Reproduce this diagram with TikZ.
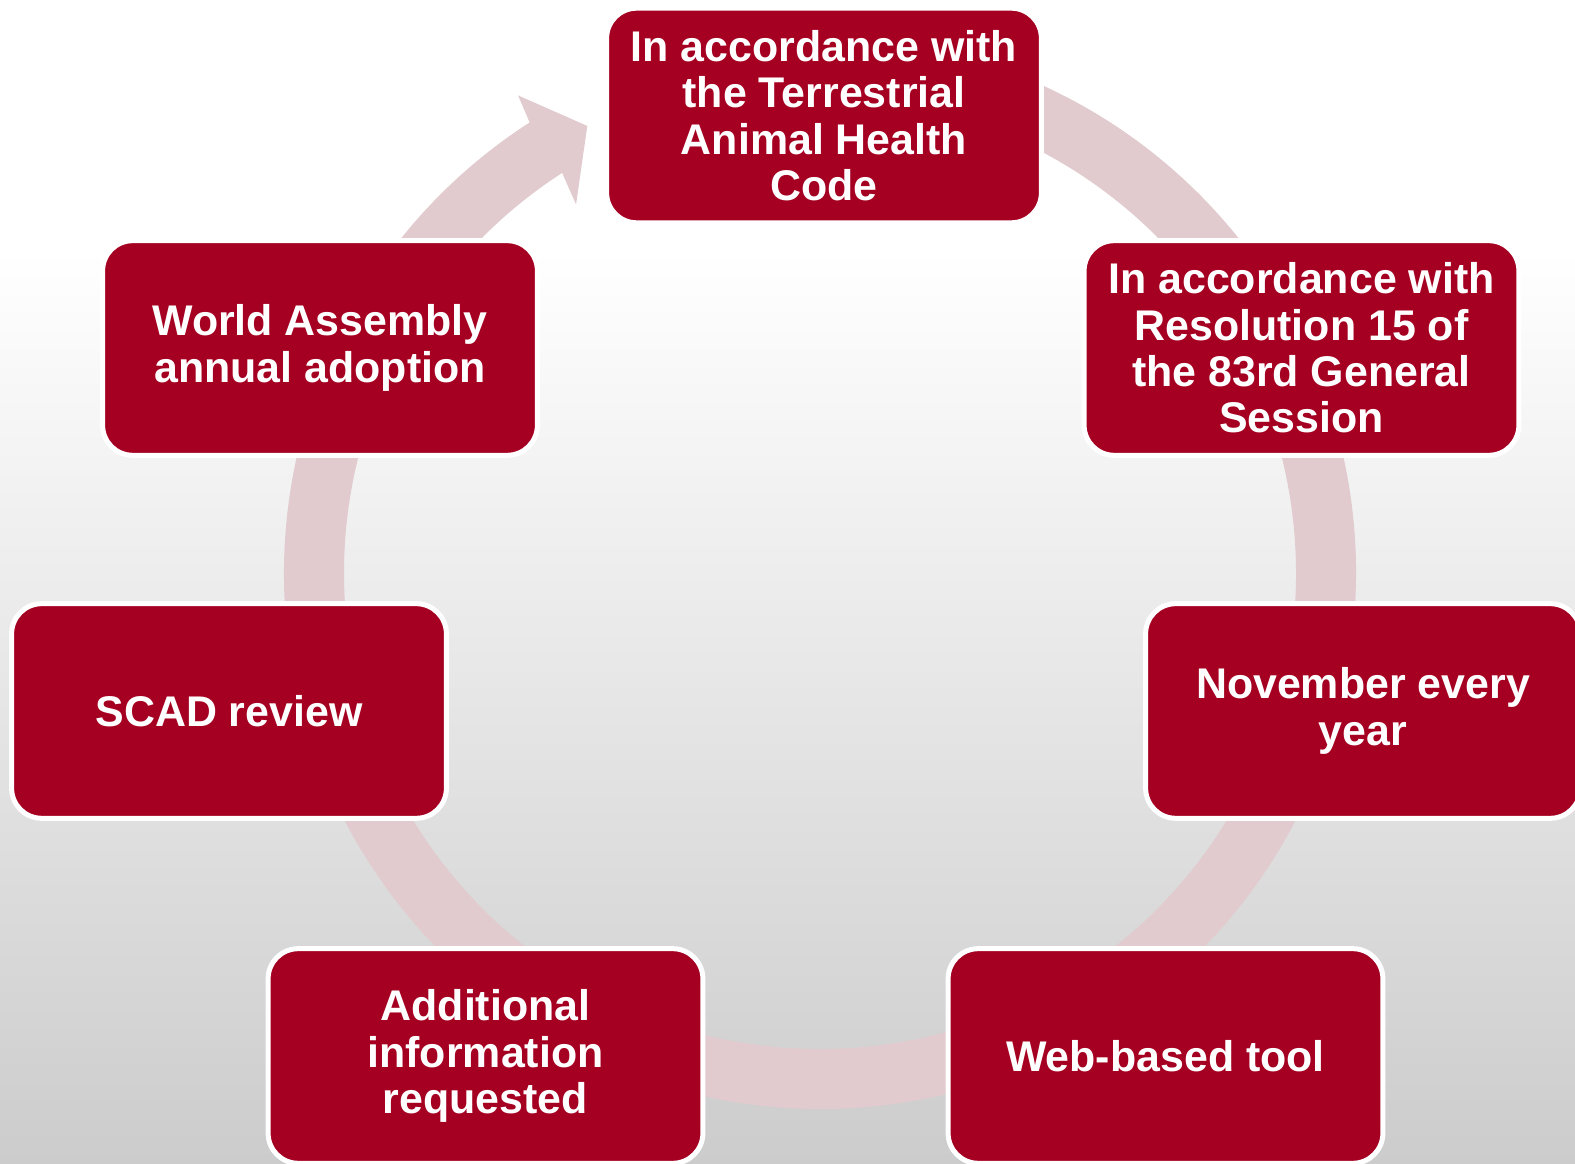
\documentclass[tikz,border=0pt]{standalone}
\usepackage{fontspec}
\setmainfont{Liberation Sans}
\usepackage{tikz}
\usepackage{xcolor}

\definecolor{oiered}{RGB}{165,0,33}
\definecolor{ringpink}{RGB}{225,203,206}

\tikzset{
  cyclebox/.style={rectangle, rounded corners=0.3cm, fill=oiered, draw=white,
    line width=0.05cm, minimum width=4.345cm, minimum height=2.145cm,
    text=white, align=center, inner sep=0pt,
    font=\fontsize{12.2pt}{13.2pt}\selectfont\bfseries}
}

\begin{document}
\begin{tikzpicture}[x=0.01cm,y=0.01cm]
            \useasboundingbox (0,0) rectangle (1575,1163);
            \clip (0,0) rectangle (1575,1163);
            \fill[white] (0,0) rectangle (1575,1163);
            \shade[top color=white,bottom color=black!20] (0,0) rectangle (1575,913);
            \begin{scope}[shift={(820,590)}]
              \fill[ringpink] (122.8:536) arc[start angle=122.8, end angle=455, radius=536]
                -- (455:476) arc[start angle=455, end angle=122.8, radius=476]
                -- (123.5:442) -- (117.5:504) -- (122.3:565) -- cycle;
            \end{scope}
            \node[cyclebox] (code) at (824,1047.5) {In accordance with\\the Terrestrial\\Animal Health\\Code};
            \node[cyclebox] (resolution) at (1301.5,815) {In accordance with\\Resolution 15 of\\the 83rd General\\Session};
            \node[cyclebox] (november) at (1363,452) {November every\\year};
            \node[cyclebox] (webtool) at (1165.5,107) {Web-based tool};
            \node[cyclebox] (additional) at (485.5,107) {Additional\\information\\requested};
            \node[cyclebox] (scad) at (229,452) {SCAD review};
            \node[cyclebox] (assembly) at (320,815) {World Assembly\\annual adoption};
        \end{tikzpicture}
\end{document}
